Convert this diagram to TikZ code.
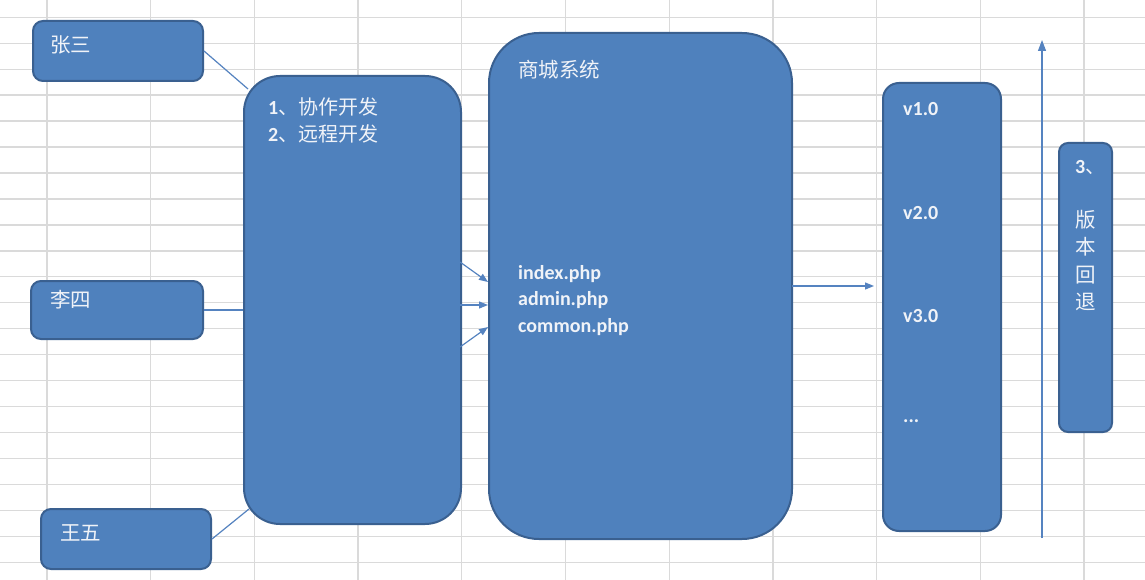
\documentclass[tikz,border=0pt]{standalone}
\usepackage{fontspec}
\setmainfont{Carlito}
\newfontfamily\cjk{Noto Sans CJK SC}
\usetikzlibrary{arrows.meta}
\definecolor{boxblue}{HTML}{4F81BD}
\definecolor{bdr}{HTML}{3A6090}
\definecolor{gridc}{HTML}{DADADA}
\definecolor{lnk}{HTML}{5583C0}
\definecolor{txt}{HTML}{F0F3F8}
\begin{document}
\begin{tikzpicture}[x=1pt,y=-1pt,
  box/.style={draw=bdr, fill=boxblue, line width=2pt, anchor=north west, inner sep=0pt},
  lbl/.style={anchor=west, text=txt, font=\fontsize{20}{26}\selectfont\bfseries, inner sep=0pt},
  clbl/.style={lbl, font=\fontsize{20.5}{26}\selectfont\cjk},
  link/.style={draw=lnk, line width=1.2pt},
  arr/.style={link, -{Triangle[length=9pt,width=7pt]}}]
\useasboundingbox (0,0) rectangle (1145,580);
\fill[white] (0,0) rectangle (1145,580);
% spreadsheet grid
\foreach \k in {0,...,21} {\draw[gridc, line width=1.3pt] (0,{17.3+\k*25.95}) -- (1145,{17.3+\k*25.95});}
\foreach \k in {0,...,10} {\draw[gridc, line width=1.3pt] ({47+\k*103.7},0) -- ({47+\k*103.7},580);}

% boxes
\node[box, rounded corners=10pt, minimum width=170pt, minimum height=60pt] (zs) at (32,20) {};
\node[box, rounded corners=10pt, minimum width=172pt, minimum height=58pt] (ls) at (30,280) {};
\node[box, rounded corners=10pt, minimum width=170pt, minimum height=60pt] (ww) at (40,508) {};
\node[box, rounded corners=36pt, minimum width=217pt, minimum height=448pt] (dev) at (243,75) {};
\node[box, rounded corners=50pt, minimum width=303pt, minimum height=506pt] (sc) at (488,32) {};
\node[box, rounded corners=16pt, minimum width=118pt, minimum height=448pt] (ver) at (882,82) {};
\node[box, rounded corners=9pt, minimum width=53pt, minimum height=289pt] (rb) at (1058,142) {};

% labels
\node[clbl] (tzs) at (50,45) {张三};
\node[clbl] (tls) at (50,300) {李四};
\node[clbl] (tww) at (60,533) {王五};
\node[lbl] (d1) at (268,107) {1{\cjk\mdseries 、协作开发}};
\node[lbl] (d2) at (268,134) {2{\cjk\mdseries 、远程开发}};
\node[clbl] (tsc) at (518,70) {商城系统};
\node[lbl] (f1) at (518,274) {index.php};
\node[lbl] (f2) at (518,300) {admin.php};
\node[lbl] (f3) at (518,327) {common.php};
\node[lbl] (v1) at (903,109) {v1.0};
\node[lbl] (v2) at (903,213) {v2.0};
\node[lbl] (v3) at (903,316) {v3.0};
\node[lbl] (v4) at (903,421) {...};
\node[lbl] (r0) at (1075,168) {3{\cjk\mdseries 、}};
\node[clbl] (r1) at (1075,220) {版};
\node[clbl] (r2) at (1075,247) {本};
\node[clbl] (r3) at (1075,275) {回};
\node[clbl] (r4) at (1075,302) {退};

% connector end points
\coordinate (zsEnd) at (248,89);
\coordinate (wwEnd) at (249,509);
\coordinate (a1s) at (460,262);
\coordinate (a1e) at (488,282);
\coordinate (a2s) at (460,305);
\coordinate (a2e) at (488,305);
\coordinate (a3s) at (460,347);
\coordinate (a3e) at (488,327);
\coordinate (vs) at (792,286);
\coordinate (ve) at (874,286);
\coordinate (upS) at (1042,538);
\coordinate (upE) at (1042,40);

% connectors
\draw[link] (zs.east) -- (zsEnd);
\draw[link] (ls.east) -- (dev.west |- ls.east);
\draw[link] (ww.east) -- (wwEnd);
\draw[arr] (a1s) -- (a1e);
\draw[arr] (a2s) -- (a2e);
\draw[arr] (a3s) -- (a3e);
\draw[arr] (vs) -- (ve);
\draw[link, -{Triangle[length=11pt,width=8pt]}] (upS) -- (upE);
\end{tikzpicture}
\end{document}
